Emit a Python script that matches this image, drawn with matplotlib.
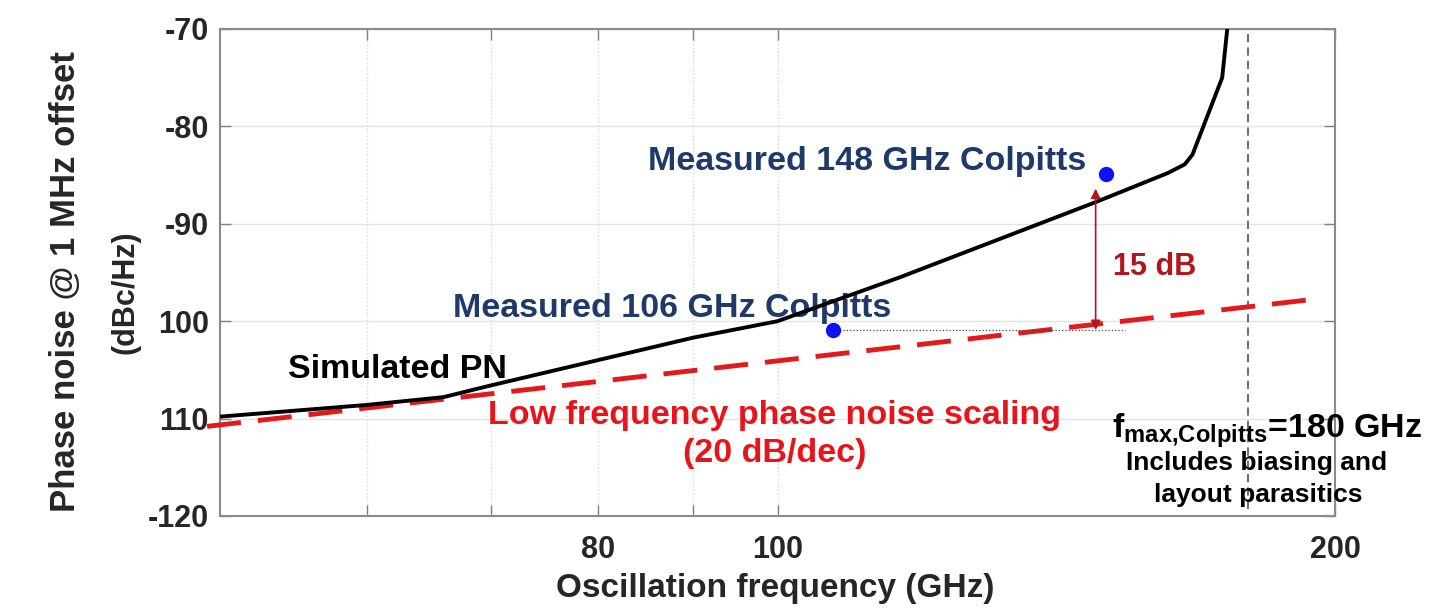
"""
Phase noise vs oscillation frequency (Colpitts)
"""

import matplotlib.pyplot as plt
from matplotlib.ticker import FixedLocator, FixedFormatter, NullLocator

plt.rcParams['font.family'] = ['Liberation Sans', 'DejaVu Sans']
plt.rcParams['font.weight'] = 'bold'
plt.rcParams['mathtext.fontset'] = 'custom'
plt.rcParams['mathtext.rm'] = 'Liberation Sans:bold'
plt.rcParams['mathtext.it'] = 'Liberation Sans:bold'
plt.rcParams['mathtext.bf'] = 'Liberation Sans:bold'

# simulated phase noise (black)
sim_freq = [50, 60, 66, 70, 90, 100, 116.4, 148.4, 162.4, 165.9, 167.5, 173.8, 174.9]
sim_pn = [-109.8, -108.6, -107.8, -106.6, -101.7, -100.0, -95.5, -87.8,
          -84.8, -83.9, -82.9, -75.0, -70.0]

# low frequency scaling, 20 dB/dec (red dashed)
lf_freq = [49.2, 193.8]
lf_pn = [-110.8, -97.8]

# measured points
meas_freq = [107.1, 150.4]
meas_pn = [-100.9, -84.9]

f_max = 179.5
gap_freq = 148.5
gap_lo, gap_hi = -100.9, -86.4
ref_end = 154.1

x_ticks = [60, 70, 80, 90, 100, 200]
x_labels = ['', '', '80', '', '100', '200']
y_ticks = [-120, -110, -100, -90, -80, -70]
y_labels = ['-120', '110', '100', '-90', '-80', '-70']

NAVY = '#1f3a68'
RED = '#e8141c'
DARKRED = '#b4141c'
GREY = '#262626'

fig = plt.figure(figsize=(14.44, 6.15), dpi=100)
ax = fig.add_axes([0.1524, 0.161, 0.7722, 0.7919])

ax.set_xscale('log')
ax.set_xlim(50, 200)
ax.set_ylim(-120, -70)

ax.xaxis.set_major_locator(FixedLocator(x_ticks))
ax.xaxis.set_major_formatter(FixedFormatter(x_labels))
ax.xaxis.set_minor_locator(NullLocator())
ax.yaxis.set_major_locator(FixedLocator(y_ticks))
ax.yaxis.set_major_formatter(FixedFormatter(y_labels))

ax.tick_params(axis='both', direction='in', length=8, width=1,
               colors='#808080', labelcolor=GREY, labelsize=22,
               top=True, right=True)
ax.tick_params(axis='x', pad=14)
ax.tick_params(axis='y', pad=8)
for s in ax.spines.values():
    s.set_color('#8a8a8a')
    s.set_linewidth(1.5)

ax.grid(axis='y', color='#e3e3e3', linewidth=1)
ax.grid(axis='x', color='#d8d8d8', linewidth=1, linestyle=':')
ax.set_axisbelow(True)

ax.plot(lf_freq, lf_pn, color='#e31a1c', linewidth=3.5,
        dashes=(7, 3.5), clip_on=False, zorder=3)
ax.plot(sim_freq, sim_pn, color='black', linewidth=2.8, zorder=4)
ax.axvline(f_max, color='#555555', linewidth=1.2, linestyle=(0, (5, 3)),
           ymin=0.015, ymax=0.99, zorder=2)
ax.plot([meas_freq[0], ref_end], [meas_pn[0], meas_pn[0]], color='#444444',
        linewidth=0.9, linestyle=':', zorder=3)
ax.annotate('', xy=(gap_freq, gap_hi), xytext=(gap_freq, gap_lo),
            arrowprops=dict(arrowstyle='<|-|>', color=DARKRED, lw=1.2,
                            mutation_scale=14, shrinkA=0, shrinkB=0),
            zorder=5)
ax.plot(meas_freq, meas_pn, 'o', color='#0a14f5', markersize=10, zorder=6)

# annotations
ax.text(85.1, -84.5, 'Measured 148 GHz Colpitts', color=NAVY, fontsize=24.5,
        fontweight='bold', ha='left', va='baseline')
ax.text(66.8, -99.6, 'Measured 106 GHz Colpitts', color=NAVY, fontsize=24.5,
        fontweight='bold', ha='left', va='baseline')
ax.text(54.4, -105.8, 'Simulated PN', color='black', fontsize=24.5,
        fontweight='bold', ha='left', va='baseline')
ax.text(99.6, -110.55, 'Low frequency phase noise scaling', color=RED,
        fontsize=24.5, fontweight='bold', ha='center', va='baseline')
ax.text(99.6, -114.45, '(20 dB/dec)', color=RED, fontsize=24.5,
        fontweight='bold', ha='center', va='baseline')
ax.text(151.7, -95.3, '15 dB', color=DARKRED, fontsize=22,
        fontweight='bold', ha='left', va='baseline')
ax.text(151.5, -112.0, r'$\mathbf{f_{max{,}Colpitts}}$=180 GHz', color='black',
        fontsize=24.5, fontweight='bold', ha='left', va='baseline')
ax.text(181.5, -115.3, 'Includes biasing and', color='black', fontsize=19,
        fontweight='bold', ha='center', va='baseline')
ax.text(181.7, -118.6, 'layout parasitics', color='black', fontsize=19,
        fontweight='bold', ha='center', va='baseline')

fig.text(775 / 1444, 1 - 588 / 615, 'Oscillation frequency (GHz)', color=GREY,
         fontsize=24, fontweight='bold', ha='center', va='center')
fig.text(66 / 1444, 1 - 282 / 615, 'Phase noise @ 1 MHz offset', color=GREY,
         fontsize=25, fontweight='bold', ha='center', va='center', rotation=90)
fig.text(126 / 1444, 1 - 292 / 615, '(dBc/Hz)', color=GREY,
         fontsize=22, fontweight='bold', ha='center', va='center', rotation=90)

fig.savefig('out.png', dpi=100)
